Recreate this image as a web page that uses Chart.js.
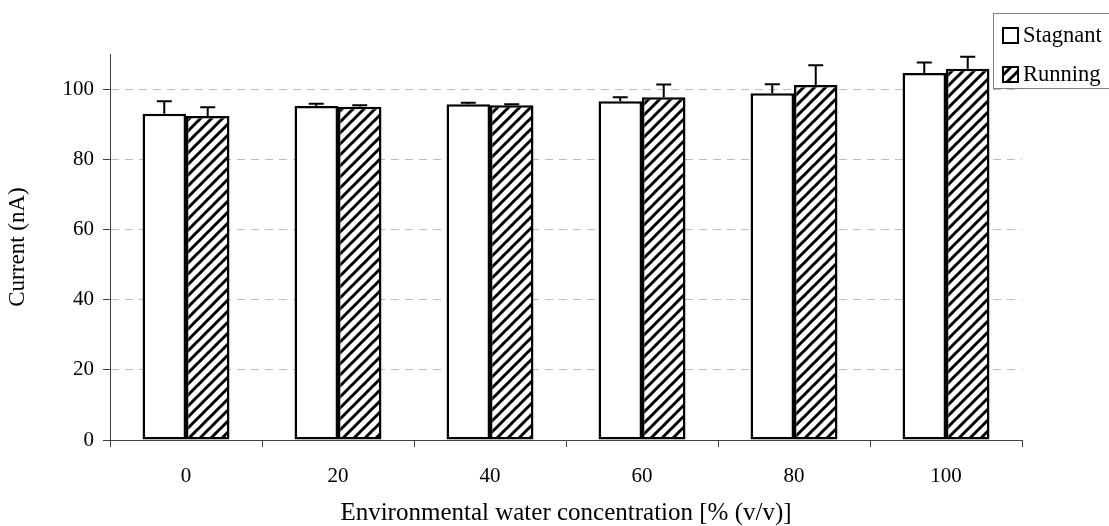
<!DOCTYPE html>
<html>
<head>
<meta charset="utf-8">
<script src="https://cdn.jsdelivr.net/npm/chart.js@4/dist/chart.umd.min.js"></script>
<style>
  html, body { margin: 0; padding: 0; background: #fff; }
  #wrap { width: 1109px; height: 526px; }
</style>
</head>
<body>
<div id="wrap"><canvas id="currentChart" width="1109" height="526"></canvas></div>
<script>
const concentrations = ['0', '20', '40', '60', '80', '100'];
const stagnant = [93.0, 95.2, 95.7, 96.5, 98.8, 104.6];
const stagnantErr = [3.5, 0.6, 0.4, 1.2, 2.6, 3.0];
const running = [92.3, 95.0, 95.4, 97.7, 101.2, 105.8];
const runningErr = [2.5, 0.4, 0.3, 3.6, 5.6, 3.4];
const yTicks = [0, 20, 40, 60, 80, 100];

const FONT = "'Liberation Serif', 'Times New Roman', serif";
const AXIS = '#404040';

// diagonal "/" hatch fill, tiles seamlessly
function makeHatch() {
    const s = 11;
    const c = document.createElement('canvas');
    c.width = s; c.height = s;
    const g = c.getContext('2d');
    g.fillStyle = '#fff';
    g.fillRect(0, 0, s, s);
    g.strokeStyle = '#000';
    g.lineWidth = 3;
    g.beginPath();
    g.moveTo(-s, s); g.lineTo(s, -s);
    g.moveTo(0, s); g.lineTo(s, 0);
    g.moveTo(0, 2 * s); g.lineTo(2 * s, 0);
    g.stroke();
    return g.createPattern(c, 'repeat');
}
const hatch = makeHatch();

const errorBars = {
    id: 'errorBars',
    afterDatasetsDraw(chart) {
        const ctx = chart.ctx;
        const yScale = chart.scales.y;
        ctx.save();
        ctx.strokeStyle = '#000';
        ctx.lineWidth = 2;
        chart.data.datasets.forEach((ds, i) => {
            const meta = chart.getDatasetMeta(i);
            meta.data.forEach((bar, j) => {
                const top = yScale.getPixelForValue(ds.data[j] + ds.errors[j]);
                ctx.beginPath();
                ctx.moveTo(bar.x, bar.y);
                ctx.lineTo(bar.x, top);
                ctx.moveTo(bar.x - 7.5, top);
                ctx.lineTo(bar.x + 7.5, top);
                ctx.stroke();
            });
        });
        ctx.restore();
    }
};

const boxLegend = {
    id: 'boxLegend',
    afterDraw(chart) {
        const ctx = chart.ctx;
        ctx.save();
        ctx.strokeStyle = '#808080';
        ctx.lineWidth = 1;
        ctx.strokeRect(993.5, 13.5, 130, 75);
        ctx.font = '22.5px ' + FONT;
        ctx.textBaseline = 'middle';
        chart.data.datasets.forEach((ds, i) => {
            const cy = 35 + i * 39;
            ctx.fillStyle = ds.backgroundColor;
            ctx.fillRect(1003, cy - 7, 15, 15);
            ctx.strokeStyle = '#000';
            ctx.lineWidth = 2;
            ctx.strokeRect(1003, cy - 7, 15, 15);
            ctx.fillStyle = '#000';
            ctx.fillText(ds.label, 1023, cy + 1);
        });
        ctx.restore();
    }
};

new Chart(document.getElementById('currentChart'), {
    type: 'bar',
    data: {
        labels: concentrations,
        datasets: [{
            label: 'Stagnant',
            data: stagnant,
            errors: stagnantErr,
            backgroundColor: '#ffffff',
            borderColor: '#000',
            borderWidth: 2.5,
            borderSkipped: false
        }, {
            label: 'Running',
            data: running,
            errors: runningErr,
            backgroundColor: hatch,
            borderColor: '#000',
            borderWidth: 2.5,
            borderSkipped: false
        }]
    },
    options: {
        responsive: false,
        animation: false,
        devicePixelRatio: 1,
        categoryPercentage: 0.572,
        barPercentage: 1,
        layout: { padding: { top: 54, right: 87, left: 0, bottom: 0 } },
        plugins: {
            legend: { display: false },
            tooltip: { enabled: false }
        },
        scales: {
            x: {
                afterFit(scale) { scale.height = 86; },
                grid: {
                    display: true,
                    drawOnChartArea: false,
                    offset: true,
                    tickLength: 7,
                    color: AXIS
                },
                border: { color: AXIS, width: 1 },
                ticks: { color: '#000', padding: 17, font: { family: FONT, size: 21 } },
                title: {
                    display: true,
                    text: 'Environmental water concentration [% (v/v)]',
                    color: '#000',
                    padding: { top: 4, bottom: -2 },
                    font: { family: FONT, size: 25 }
                }
            },
            y: {
                min: 0,
                max: 110,
                afterFit(scale) { scale.width = 110; },
                afterBuildTicks(scale) { scale.ticks = yTicks.map(v => ({ value: v })); },
                grid: {
                    color: ctx => ctx.tick && ctx.tick.value === 0 ? 'rgba(0,0,0,0)' : '#bdbdbd',
                    tickColor: AXIS,
                    tickLength: 7
                },
                border: { color: AXIS, width: 1, dash: [8, 6] },
                ticks: { color: '#000', padding: 9, font: { family: FONT, size: 21 } },
                title: {
                    display: true,
                    text: 'Current (nA)',
                    color: '#000',
                    font: { family: FONT, size: 23 }
                }
            }
        }
    },
    plugins: [errorBars, boxLegend]
});
</script>
</body>
</html>
